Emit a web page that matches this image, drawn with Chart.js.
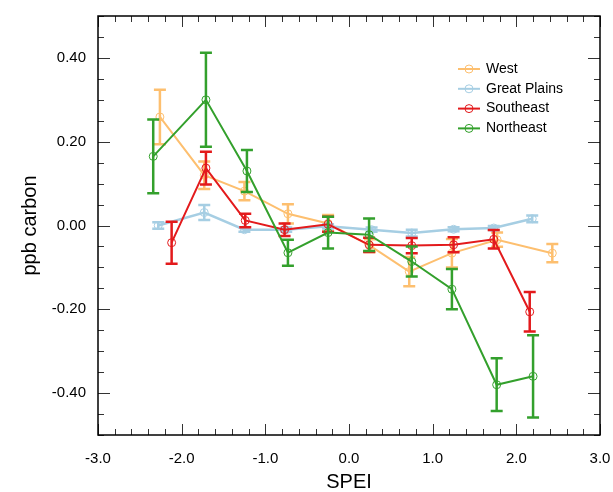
<!DOCTYPE html>
<html>
<head>
<meta charset="utf-8">
<script src="https://cdn.jsdelivr.net/npm/chart.js@4.4.1/dist/chart.umd.min.js"></script>
<style>
  html, body { margin: 0; padding: 0; background: #fff; }
  #wrap { width: 613px; height: 492px; }
</style>
</head>
<body>
<div id="wrap"><canvas id="spei"></canvas></div>
<script>
// regions and colours
const regions = ["West", "Great Plains", "Southeast", "Northeast"];
const colors = ["#fdbf6f", "#a6cee3", "#e31a1c", "#33a02c"];

// SPEI bin positions (each region slightly offset) and mean / error values
const westX = [-2.26, -1.73, -1.25, -0.73, -0.25, 0.25, 0.72, 1.23, 1.77, 2.43];
const westY = [0.259, 0.12, 0.082, 0.028, 0.005, -0.048, -0.11, -0.066, -0.034, -0.066];
const westErr = [0.065, 0.033, 0.022, 0.023, 0.02, 0.015, 0.035, 0.034, 0.017, 0.022];

const plainsX = [-2.28, -1.73, -1.25, -0.75, -0.25, 0.27, 0.75, 1.25, 1.73, 2.19];
const plainsY = [0.0, 0.031, -0.01, -0.01, -0.002, -0.01, -0.018, -0.009, -0.006, 0.016];
const plainsErr = [0.008, 0.018, 0.005, 0.005, 0.005, 0.005, 0.008, 0.005, 0.005, 0.008];

const southX = [-2.12, -1.71, -1.24, -0.77, -0.25, 0.24, 0.75, 1.25, 1.73, 2.16];
const southY = [-0.041, 0.137, 0.012, -0.01, 0.003, -0.046, -0.048, -0.046, -0.033, -0.206];
const southErr = [0.05, 0.039, 0.016, 0.015, 0.018, 0.017, 0.018, 0.018, 0.022, 0.047];

const northX = [-2.34, -1.71, -1.22, -0.73, -0.25, 0.24, 0.75, 1.23, 1.765, 2.2];
const northY = [0.165, 0.30, 0.13, -0.065, -0.017, -0.022, -0.086, -0.152, -0.38, -0.36];
const northErr = [0.088, 0.112, 0.05, 0.031, 0.038, 0.039, 0.036, 0.048, 0.063, 0.098];

// axis ticks
const xTicks = [-3, -2, -1, 0, 1, 2, 3];
const yTicks = [-0.4, -0.2, 0, 0.2, 0.4];

const FONT = "'Liberation Sans', Arial, Helvetica, sans-serif";

function makeSet(i, xs, ys, errs, order) {
  return {
    label: regions[i],
    data: xs.map((x, k) => ({ x: x, y: ys[k] })),
    errs: errs,
    borderColor: colors[i],
    backgroundColor: "rgba(0,0,0,0)",
    borderWidth: i === 1 ? 2.5 : 2,
    pointRadius: 4,
    pointBorderWidth: 1,
    pointBorderColor: colors[i],
    pointBackgroundColor: "rgba(0,0,0,0)",
    tension: 0,
    order: order,
  };
}

// error bars drawn right after each dataset so stacking stays right
const errorBars = {
  id: "errorBars",
  afterDatasetDraw(chart, args) {
    const ds = chart.data.datasets[args.index];
    const xs = chart.scales.x, ys = chart.scales.y;
    const ctx = chart.ctx;
    ctx.save();
    ctx.strokeStyle = ds.borderColor;
    ctx.lineWidth = 2.5;
    ds.data.forEach((p, k) => {
      const e = ds.errs[k];
      const px = xs.getPixelForValue(p.x);
      const top = ys.getPixelForValue(p.y + e);
      const bot = ys.getPixelForValue(p.y - e);
      ctx.beginPath();
      ctx.moveTo(px, top); ctx.lineTo(px, bot);
      ctx.moveTo(px - 6, top); ctx.lineTo(px + 6, top);
      ctx.moveTo(px - 6, bot); ctx.lineTo(px + 6, bot);
      ctx.stroke();
    });
    ctx.restore();
  },
};

// frame with inward ticks on all four sides
const frame = {
  id: "frame",
  afterDraw(chart) {
    const { ctx, chartArea: a } = chart;
    const xs = chart.scales.x, ys = chart.scales.y;
    ctx.save();
    ctx.strokeStyle = "#333";
    ctx.lineWidth = 1;
    ctx.beginPath();
    for (let i = 0; i <= 30; i++) {
      const v = -3 + i * 0.2;
      const px = Math.round(xs.getPixelForValue(v)) + 0.5;
      const len = i % 5 === 0 ? 11 : 6;
      ctx.moveTo(px, a.bottom); ctx.lineTo(px, a.bottom - len);
      ctx.moveTo(px, a.top); ctx.lineTo(px, a.top + len);
    }
    for (let i = 0; i <= 20; i++) {
      const v = -0.5 + i * 0.05;
      const py = Math.round(ys.getPixelForValue(v)) + 0.5;
      const len = (i - 2) % 4 === 0 ? 12 : 6;
      ctx.moveTo(a.left, py); ctx.lineTo(a.left + len, py);
      ctx.moveTo(a.right, py); ctx.lineTo(a.right - len, py);
    }
    ctx.stroke();
    ctx.strokeStyle = "#000";
    ctx.lineWidth = 1.5;
    ctx.strokeRect(a.left, a.top, a.right - a.left, a.bottom - a.top);
    ctx.restore();
  },
};

// legend inside the plot, top right
const insideLegend = {
  id: "insideLegend",
  afterDraw(chart) {
    const { ctx, chartArea: a } = chart;
    ctx.save();
    ctx.font = "14px " + FONT;
    ctx.textBaseline = "middle";
    chart.data.datasets.forEach((ds, i) => {
      const y = a.top + 53 + i * 19.8;
      const x0 = a.left + 360;
      ctx.strokeStyle = ds.borderColor;
      ctx.lineWidth = 2;
      ctx.beginPath();
      ctx.moveTo(x0, y); ctx.lineTo(x0 + 22, y);
      ctx.stroke();
      ctx.lineWidth = 1;
      ctx.beginPath();
      ctx.arc(x0 + 11, y, 4, 0, Math.PI * 2);
      ctx.stroke();
      ctx.fillStyle = "#000";
      ctx.fillText(ds.label, x0 + 28, y);
    });
    ctx.restore();
  },
};

const ctx = document.getElementById("spei");
const chart = new Chart(ctx, {
  type: "line",
  data: {
    datasets: [
      makeSet(0, westX, westY, westErr, 3),
      makeSet(1, plainsX, plainsY, plainsErr, 2),
      makeSet(2, southX, southY, southErr, 1),
      makeSet(3, northX, northY, northErr, 0),
    ],
  },
  options: {
    responsive: true,
    maintainAspectRatio: false,
    animation: false,
    devicePixelRatio: 1,
    layout: { padding: { top: 16, right: 13, left: 0, bottom: 0 } },
    plugins: { legend: { display: false }, tooltip: { enabled: false } },
    scales: {
      x: {
        type: "linear",
        min: -3,
        max: 3,
        grid: { display: false, drawTicks: false },
        border: { display: false },
        afterBuildTicks: (s) => { s.ticks = xTicks.map((v) => ({ value: v })); },
        afterFit: (s) => { s.height = 57; s.paddingLeft = 0; s.paddingRight = 0; },
        ticks: {
          padding: 15,
          color: "#000",
          font: { family: FONT, size: 15 },
          callback: (v) => Number(v).toFixed(1),
        },
        title: {
          display: true,
          text: "SPEI",
          color: "#000",
          font: { family: FONT, size: 20, lineHeight: 1 },
          padding: { top: 0, bottom: 0 },
        },
      },
      y: {
        min: -0.5,
        max: 0.5,
        grid: { display: false, drawTicks: false },
        border: { display: false },
        afterBuildTicks: (s) => { s.ticks = yTicks.map((v) => ({ value: v })); },
        afterFit: (s) => { s.width = 98; s.paddingTop = 0; s.paddingBottom = 0; },
        ticks: {
          padding: 12,
          color: "#000",
          font: { family: FONT, size: 15 },
          callback: (v) => Number(v).toFixed(2),
        },
        title: {
          display: true,
          text: "ppb carbon",
          color: "#000",
          font: { family: FONT, size: 20, lineHeight: 1 },
          padding: { top: 20, bottom: 0 },
        },
      },
    },
  },
  plugins: [errorBars, frame, insideLegend],
});
</script>
</body>
</html>
